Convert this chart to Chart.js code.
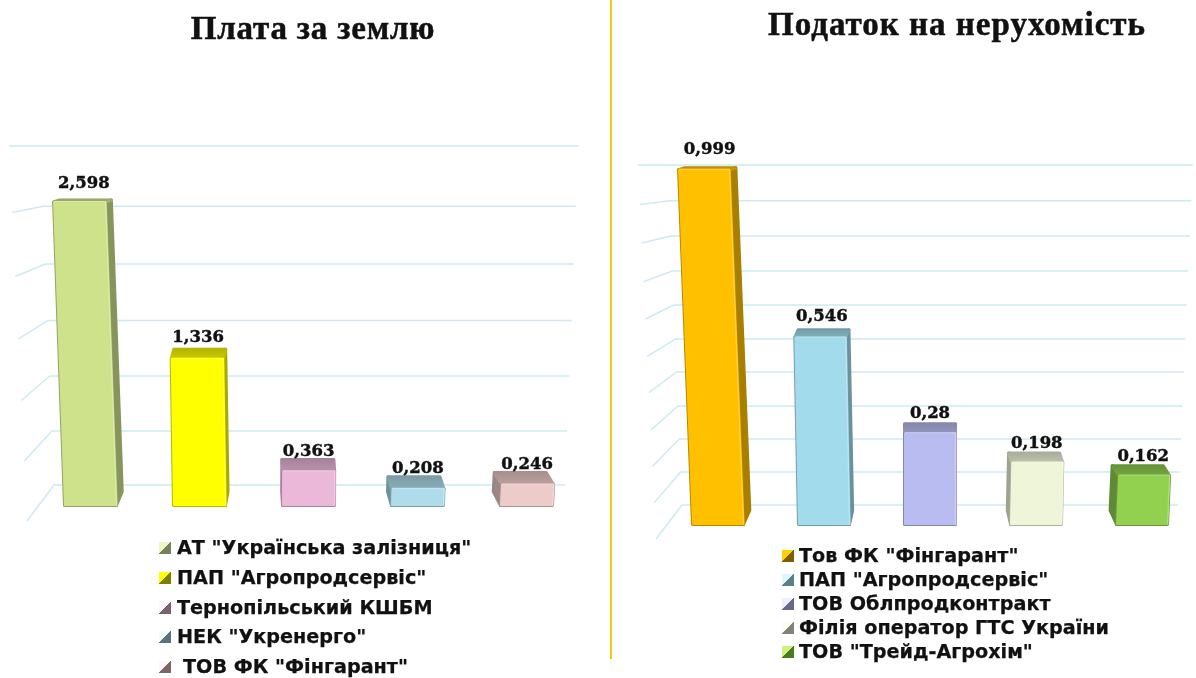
<!DOCTYPE html>
<html lang="uk"><head><meta charset="utf-8">
<script src="https://cdn.jsdelivr.net/npm/chart.js@4"></script>
<style>
html,body{margin:0;padding:0;background:#fff;width:1196px;height:678px;overflow:hidden}
canvas{position:absolute;top:0;filter:blur(.5px)}
.t{position:absolute;margin:0;white-space:nowrap;font:bold 33px "Liberation Serif",serif;color:#111;transform:translateX(-50%);letter-spacing:.8px;-webkit-text-stroke:.5px #111;filter:blur(.3px)}
.l{position:absolute;white-space:nowrap;font:bold 19.2px "DejaVu Sans",sans-serif;color:#111;line-height:22px;-webkit-text-stroke:.25px #111;filter:blur(.3px)}
.m{position:absolute;width:12px;height:12px;filter:blur(.3px)}
#div{position:absolute;left:610px;top:0;width:1.5px;height:659px;background:#eec910}
</style></head><body>
<canvas id="c1" width="610" height="678" style="left:0"></canvas>
<canvas id="c2" width="585" height="678" style="left:611px"></canvas>
<div id="div"></div>
<h2 class="t" id="t1" style="left:313px;top:10px"></h2>
<h2 class="t" id="t2" style="left:957px;top:6px;letter-spacing:1px"></h2>
<div id="lg"></div>
<script>
const titleLeft = 'Плата за землю';
const categoriesLeft = ['АТ "Українська залізниця"','ПАП "Агропродсервіс"','Тернопільський КШБМ','НЕК "Укренерго"','ТОВ ФК "Фінгарант"'];
const valuesLeft = [2.598,1.336,0.363,0.208,0.246];
const labelsLeft = ['2,598','1,336','0,363','0,208','0,246'];
const colorsLeft = ['#cde28b','#ffff00','#ecb8d9','#aedcea','#eccbc9'];
const gridLeft = [0.186,0.644,1.11,1.58,2.06,2.55,3.06];
const titleRight = 'Податок на нерухомість';
const categoriesRight = ['Тов ФК "Фінгарант"','ПАП "Агропродсервіс"','ТОВ Облпродконтракт','Філія оператор ГТС України','ТОВ "Трейд-Агрохім"'];
const valuesRight = [0.999,0.546,0.28,0.198,0.162];
const labelsRight = ['0,999','0,546','0,28','0,198','0,162'];
const colorsRight = ['#ffc000','#a2dcec','#b9bcf0','#eff5d8','#92d050'];
const gridRight = [0.0587,0.151,0.243,0.335,0.430,0.522,0.617,0.712,0.810,0.908,1.008];
const markersLeft = [['#eef5c9','#76805a'],['#ffff00','#7d7d00'],['#fdf6fa','#7d5f72'],['#f3fbfd','#587480'],['#fdf8f7','#7d6664']];
const markersRight = [['#ffd000','#7d5f00'],['#e0f6fb','#5a8088'],['#eeeffd','#67688e'],['#fbfdf3','#80837a'],['#d0f080','#4a7a20']];

function shade(hex,f){const n=parseInt(hex.slice(1),16);
  return 'rgb('+[(n>>16)&255,(n>>8)&255,n&255].map(c=>Math.round(c*f)).join(',')+')';}

function poly(ctx,p,fill,lw){ctx.beginPath();p.forEach((q,i)=>i?ctx.lineTo(q[0],q[1]):ctx.moveTo(q[0],q[1]));ctx.closePath();
  ctx.fillStyle=fill;ctx.fill();ctx.lineJoin='round';ctx.lineWidth=lw;ctx.strokeStyle=fill;ctx.stroke();}

function geom(el,g,hMax){
  const h=el.base-el.y, r=h/hMax, w=el.width/2;
  const front=el.y+g.offset*(1-Math.pow(r,4))+g.bump*4*r*(1-r);
  const hf=el.base-front;
  const lean=(el.x-g.xc)*1.85e-4*hf;
  const dx=(g.xc-el.x)*0.03;
  const dy=2+g.depth*(1-r*r);
  return {h,front,hf,lean,dx,dy,w};
}

const perspective={id:'perspective',
  beforeDraw(chart,a,o){
    const ctx=chart.ctx,y=chart.scales.y,gr=o.grid;
    ctx.save();ctx.strokeStyle='#cdeaf3';ctx.lineWidth=1.5;ctx.lineJoin='round';
    const yTop=y.getPixelForValue(o.levels[o.levels.length-1]), yBot=y.getPixelForValue(o.levels[0]);
    o.levels.forEach(v=>{
      const py=y.getPixelForValue(v), up=yBot-py;
      const bend=gr.bend-up*gr.bendK, left=gr.left-up*gr.leftK, right=gr.right+up*gr.rightK;
      const drop=gr.drop*(py-yTop)/(yBot-yTop);
      ctx.beginPath();ctx.moveTo(left,py+drop);ctx.lineTo(bend,py);ctx.lineTo(right,py);ctx.stroke();
    });
    ctx.restore();
  },
  beforeDatasetsDraw(chart,a,o){
    const meta=chart.getDatasetMeta(0);
    const hMax=Math.max(...meta.data.map(e=>e.base-e.y));
    meta.data.forEach(el=>{
      el.draw=function(ctx){
        const c=this.options.backgroundColor, g=geom(this,o,hMax);
        const x=this.x,b=this.base,w=g.w,i=1.5;
        const tl=x-w+g.lean, tr=x+w+g.lean, bl=x-w, br=x+w, t=g.front;
        const sideD=14;
        const backY=t-g.dy;
        ctx.save();
        if(g.dx>0.5) poly(ctx,[[tr-i,t+i],[tr+g.dx-i,backY+i],[br+g.dx-i,b-sideD-i],[br-i,b-i]],shade(c,0.66),3);
        if(g.dx<-0.5) poly(ctx,[[tl+i,t+i],[tl+g.dx+i,backY+i],[bl+g.dx+i,b-sideD-i],[bl+i,b-i]],shade(c,0.66),3);
        const topGrad=ctx.createLinearGradient(0,backY,0,t);
        topGrad.addColorStop(0,shade(c,0.7));topGrad.addColorStop(1,shade(c,0.78));
        poly(ctx,[[tl+i,t+i],[tr-i,t+i],[tr+g.dx-i,Math.min(backY+i,t+i)],[tl+g.dx+i,Math.min(backY+i,t+i)]],topGrad,3);
        poly(ctx,[[tl+i,t+i],[tr-i,t+i],[br-i,b-i],[bl+i,b-i]],shade(c,0.72),3);
        poly(ctx,[[tl+2,t+1.5],[tr-1.5,t+1.5],[br-1.5,b-2],[bl+2,b-2]],c,2);
        ctx.lineWidth=1.2;ctx.strokeStyle='rgba(255,255,255,.28)';ctx.lineJoin='round';
        ctx.beginPath();ctx.moveTo(tl+2,t+1);ctx.lineTo(tr-1.5,t+1);ctx.lineTo(br-1.5,b-1.5);ctx.stroke();
        ctx.restore();
      };
    });
  },
  afterDatasetsDraw(chart,a,o){
    const meta=chart.getDatasetMeta(0),ctx=chart.ctx;
    const hMax=Math.max(...meta.data.map(e=>e.base-e.y));
    ctx.save();ctx.font='bold 16.5px "DejaVu Serif",serif';ctx.fillStyle='#111';ctx.strokeStyle='#111';ctx.lineWidth=.45;ctx.textAlign='center';ctx.textBaseline='middle';
    meta.data.forEach((el,i)=>{
      const g=geom(el,o,hMax);
      const lx=el.x+g.lean*0.6, ly=g.front-g.dy-5.5-g.h*0.03;
      ctx.fillText(o.labels[i],lx,ly);ctx.strokeText(o.labels[i],lx,ly);
    });
    ctx.restore();
  }
};

function makeChart(id,cats,vals,cols,levels,labels,pad,max,barFrac,opt){
  return new Chart(document.getElementById(id),{
    type:'bar',
    data:{labels:cats,datasets:[{data:vals,backgroundColor:cols,barPercentage:1,categoryPercentage:barFrac,clip:false}]},
    plugins:[perspective],
    options:{responsive:false,animation:false,layout:{padding:pad},
      scales:{x:{display:false,offset:true},y:{display:false,min:0,max:max}},
      plugins:{legend:{display:false},tooltip:{enabled:false},title:{display:false},
        perspective:Object.assign({levels,labels},opt)}}
  });
}
makeChart('c1',categoriesLeft,valuesLeft,colorsLeft,gridLeft,labelsLeft,
  {left:36,right:29,top:146,bottom:171},3.06,55/109,
  {xc:283,offset:3.5,bump:4.5,depth:10,grid:{bend:54,bendK:.039,left:27,leftK:.0531,right:565,rightK:.04,drop:36}});
makeChart('c2',categoriesRight,valuesRight,colorsRight,gridRight,labelsRight,
  {left:54,right:1,top:165,bottom:152},1.008,54/106,
  {xc:318,offset:6,bump:0,depth:8,grid:{bend:71,bendK:.0412,left:45,leftK:.053,right:567,rightK:.044,drop:34}});

document.getElementById('t1').textContent=titleLeft;
document.getElementById('t2').textContent=titleRight;
const lg=document.getElementById('lg');
function legend(cats,marks,mx,tx,ys,extra){
  cats.forEach((c,i)=>{
    const m=document.createElement('div');m.className='m';
    m.style.cssText=`left:${mx}px;top:${ys[i]-6}px;background:linear-gradient(135deg,${marks[i][0]} 50%,${marks[i][1]} 50%)`;
    const t=document.createElement('div');t.className='l';t.textContent=c;
    t.style.left=(tx+(extra[i]||0))+'px';t.style.top=(ys[i]-11)+'px';
    lg.append(m,t);
  });
}
legend(categoriesLeft,markersLeft,159,177,[548,578,608,637,667],[0,0,0,0,6]);
legend(categoriesRight,markersRight,782,799,[556,580,604,628,652],[]);
</script></body></html>
